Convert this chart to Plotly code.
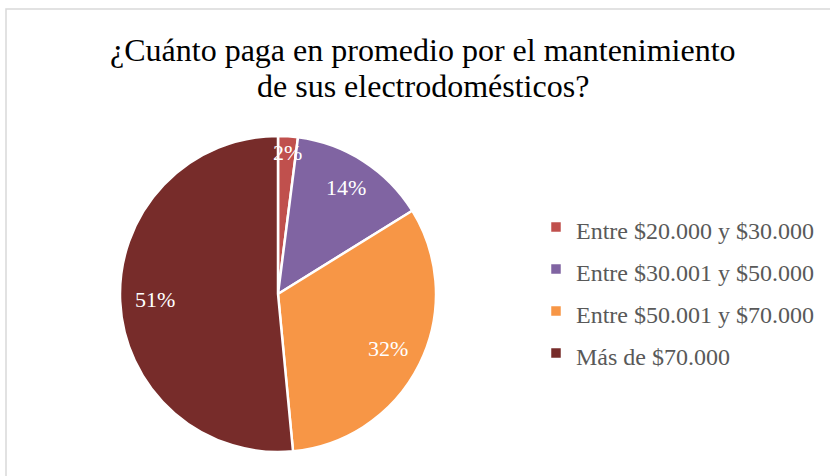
import math
import plotly.graph_objects as go

# Survey: average spend on appliance maintenance
categories = [
    "Entre $20.000 y $30.000",
    "Entre $30.001 y $50.000",
    "Entre $50.001 y $70.000",
    "Más de $70.000",
]
percentages = [2, 14, 32, 51]
colors = ["#C0504D", "#8064A2", "#F79646", "#772C2A"]
title_lines = [
    "¿Cuánto paga en promedio por el mantenimiento",
    "de sus electrodomésticos?",
]

W, H = 830, 476
SERIF = "Liberation Serif, Times New Roman, serif"

# pie geometry (pixels)
CX, CY, R = 278, 294, 158
# relative distance of each data label from the centre
label_radius = [0.9, 0.8, 0.78, 0.78]

# legend line height comes from the legend font; the visible text is smaller
legend_labels = [f'<span style="font-size:24px">{c}</span>' for c in categories]

fig = go.Figure(
    go.Pie(
        labels=legend_labels,
        values=percentages,
        textinfo="none",
        hovertemplate="%{label}: %{value}%<extra></extra>",
        sort=False,
        direction="clockwise",
        rotation=0,
        marker=dict(colors=colors, line=dict(color="white", width=2.5)),
        domain=dict(x=[(CX - R) / W, (CX + R) / W], y=[(H - CY - R) / H, (H - CY + R) / H]),
    )
)

# data labels placed at the mid-angle of each slice
annotations = []
total = sum(percentages)
cum = 0.0
for v, k in zip(percentages, label_radius):
    mid = (cum + v / 2) / total * 2 * math.pi  # clockwise from 12 o'clock
    cum += v
    px = CX + k * R * math.sin(mid)
    py = CY - k * R * math.cos(mid)
    annotations.append(
        dict(
            x=px / W,
            y=1 - py / H,
            xref="paper",
            yref="paper",
            text=f"{v}%",
            showarrow=False,
            xanchor="center",
            yanchor="middle",
            font=dict(family=SERIF, size=22, color="white"),
        )
    )

# two-line title, tighter leading than the default title
for line, yc in zip(title_lines, [50, 86]):
    annotations.append(
        dict(
            x=423 / W,
            y=1 - yc / H,
            xref="paper",
            yref="paper",
            text=line,
            showarrow=False,
            xanchor="center",
            yanchor="middle",
            font=dict(family=SERIF, size=32, color="#000000"),
        )
    )

fig.update_layout(
    width=W,
    height=H,
    margin=dict(l=0, r=0, t=0, b=0),
    paper_bgcolor="white",
    plot_bgcolor="white",
    annotations=annotations,
    legend=dict(
        x=536 / W,
        xanchor="left",
        y=1 - 290 / H,
        yanchor="middle",
        font=dict(family=SERIF, size=30, color="#595959"),
        bgcolor="rgba(0,0,0,0)",
    ),
    shapes=[
        dict(
            type="rect",
            xref="paper",
            yref="paper",
            x0=6 / W,
            x1=1.02,
            y0=-0.02,
            y1=1 - 9 / H,
            line=dict(color="#D9D9D9", width=1.5),
            fillcolor="rgba(0,0,0,0)",
            layer="below",
        )
    ],
)

fig.write_html("out.html")
